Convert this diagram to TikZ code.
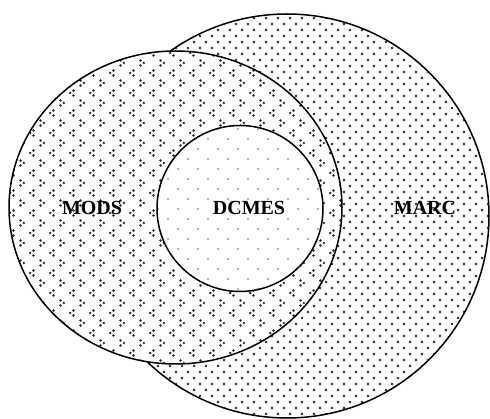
\documentclass[tikz,border=0pt]{standalone}
\usepackage{fontspec}
\setmainfont{Liberation Serif}
\begin{document}
\begin{tikzpicture}[
    x=1pt, y=-1pt,
    ring/.style={draw=black, line width=1.5pt},
    setlbl/.style={font=\fontsize{20}{24}\selectfont\bfseries, inner sep=0pt},
    marcdot/.style={fill=black!85},
    modsdot/.style={fill=black!85},
    dcmesdot/.style={fill=black!40}
]
\useasboundingbox (0,0) rectangle (490,419);

% MARC: dense dot field
\fill[white] (287,216) circle (202);
\begin{scope}
  \clip (287,216) circle (202);
  \foreach \r [evaluate=\r as \off using {mod(\r,2)*6}] in {0,...,70} {
    \foreach \c in {0,...,35} {
      \fill[marcdot] ({80+\c*12+\off}, {12+\r*6}) circle (1.3);
    }
  }
\end{scope}
\draw[ring] (287,216) circle (202);

% MODS: chevrons
\fill[white] (175.5,207.5) ellipse (166.5 and 156.5);
\begin{scope}
  \clip (175.5,207.5) ellipse (166.5 and 156.5);
  \foreach \r in {0,...,16} {
    \foreach \c in {0,...,17} {
      % right-pointing
      \fill[modsdot] ({2+\c*20-1.5}, {43+\r*20-2.5}) circle (1.3);
      \fill[modsdot] ({2+\c*20+1.8}, {43+\r*20}) circle (1.3);
      \fill[modsdot] ({2+\c*20-1.5}, {43+\r*20+2.5}) circle (1.3);
      % left-pointing
      \fill[modsdot] ({12+\c*20+1.5}, {53+\r*20-2.5}) circle (1.3);
      \fill[modsdot] ({12+\c*20-1.8}, {53+\r*20}) circle (1.3);
      \fill[modsdot] ({12+\c*20+1.5}, {53+\r*20+2.5}) circle (1.3);
    }
  }
\end{scope}
\draw[ring] (175.5,207.5) ellipse (166.5 and 156.5);

% DCMES: light dots
\fill[white] (240,208.5) circle (83);
\begin{scope}
  \clip (240,208.5) circle (83);
  \foreach \r [evaluate=\r as \off using {mod(\r,2)*10}] in {0,...,18} {
    \foreach \c in {0,...,9} {
      \fill[dcmesdot] ({148+\c*20+\off}, {119+\r*10}) circle (1.2);
    }
  }
\end{scope}
\draw[ring] (240,208.5) circle (83);

\node[setlbl] (mods)  at (92,208)  {MODS};
\node[setlbl] (dcmes) at (249,208) {DCMES};
\node[setlbl] (marc)  at (425,208) {MARC};
\end{tikzpicture}
\end{document}
